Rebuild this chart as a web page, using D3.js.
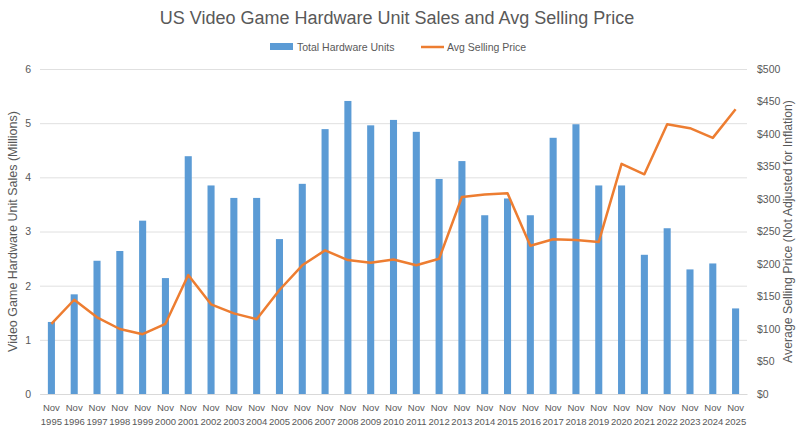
<!DOCTYPE html>
<html>
<head>
<meta charset="utf-8">
<script src="https://cdn.jsdelivr.net/npm/d3@7"></script>
<style>
  body { margin: 0; background: #fff; }
  svg { font-family: "Liberation Sans", Arial, sans-serif; }
  .tick text { fill: #595959; }
</style>
</head>
<body>
<svg id="chart" width="800" height="429"></svg>
<script>
// data
var years = ['1995','1996','1997','1998','1999','2000','2001','2002','2003','2004','2005','2006','2007','2008','2009','2010',
  '2011','2012','2013','2014','2015','2016','2017','2018','2019','2020','2021','2022','2023','2024','2025'];
var hardwareUnits = [1.33, 1.84, 2.46, 2.64, 3.2, 2.14, 4.39, 3.85, 3.62, 3.62, 2.86, 3.88, 4.89, 5.41, 4.96, 5.06,
  4.84, 3.97, 4.30, 3.30, 3.61, 3.30, 4.73, 4.98, 3.85, 3.85, 2.57, 3.06, 2.30, 2.41, 1.58];
var avgPrice = [108, 145, 118, 100, 92, 108, 183, 138, 124, 115, 160, 198, 221, 206, 202, 207,
  198, 208, 303, 307, 309, 228, 238, 237, 234, 354, 338, 415, 409, 394, 438];
var unitTicks = [0, 1, 2, 3, 4, 5, 6];
var priceTicks = [0, 50, 100, 150, 200, 250, 300, 350, 400, 450, 500];

var barColor = '#5b9bd5';
var lineColor = '#ed7d31';
var textColor = '#595959';

var svg = d3.select('#chart');
var plot = { left: 40, right: 747, top: 69, bottom: 394 };

//scales
var x = d3.scaleBand().domain(years).range([plot.left, plot.right]).paddingInner(0.69).paddingOuter(0.345);
var yUnits = d3.scaleLinear().domain([0, 6]).range([plot.bottom, plot.top]);
var yPrice = d3.scaleLinear().domain([0, 500]).range([plot.bottom, plot.top]);

//gridlines
svg.append('g')
  .selectAll('line')
  .data(unitTicks)
  .join('line')
    .attr('x1', plot.left)
    .attr('x2', plot.right)
    .attr('y1', d => yUnits(d) + 0.5)
    .attr('y2', d => yUnits(d) + 0.5)
    .attr('stroke', '#e0e0e0')
    .attr('stroke-width', 1);

//left axis
var leftAxis = svg.append('g')
  .attr('transform', 'translate(' + plot.left + ',0)')
  .call(d3.axisLeft(yUnits).tickValues(unitTicks).tickSize(0).tickPadding(9).tickFormat(d3.format('d')));
leftAxis.select('.domain').remove();
leftAxis.selectAll('text').attr('font-size', 10.5);

//right axis
var rightAxis = svg.append('g')
  .attr('transform', 'translate(' + plot.right + ',0)')
  .call(d3.axisRight(yPrice).tickValues(priceTicks).tickSize(0).tickPadding(10).tickFormat(d => '$' + d));
rightAxis.select('.domain').remove();
rightAxis.selectAll('text').attr('font-size', 10.5);

//bottom axis, two-line labels
var bottomAxis = svg.append('g')
  .attr('transform', 'translate(0,' + plot.bottom + ')')
  .call(d3.axisBottom(x).tickSize(0).tickFormat(''));
bottomAxis.select('.domain').attr('stroke', '#d9d9d9');
bottomAxis.selectAll('.tick text').remove();
bottomAxis.selectAll('.tick').each(function(d) {
  var t = d3.select(this).append('text')
    .attr('fill', textColor)
    .attr('font-size', 9.5)
    .attr('text-anchor', 'middle');
  t.append('tspan').attr('x', 0).attr('y', 17).text('Nov');
  t.append('tspan').attr('x', 0).attr('y', 31).text(d);
});

//bars
svg.append('g')
  .selectAll('rect')
  .data(years)
  .join('rect')
    .attr('x', d => x(d))
    .attr('y', (d, i) => yUnits(hardwareUnits[i]))
    .attr('width', x.bandwidth())
    .attr('height', (d, i) => yUnits(0) - yUnits(hardwareUnits[i]))
    .attr('fill', barColor);

//price line
var line = d3.line()
  .x((d, i) => x(years[i]) + x.bandwidth() / 2)
  .y(d => yPrice(d));

svg.append('path')
  .datum(avgPrice)
  .attr('d', line)
  .attr('fill', 'none')
  .attr('stroke', lineColor)
  .attr('stroke-width', 2.5)
  .attr('stroke-linejoin', 'round');

//title
svg.append('text')
  .attr('x', 397)
  .attr('y', 24)
  .attr('text-anchor', 'middle')
  .attr('font-size', 18)
  .attr('fill', textColor)
  .text('US Video Game Hardware Unit Sales and Avg Selling Price');

//legend
var legend = svg.append('g').attr('transform', 'translate(0,47)');
legend.append('rect')
  .attr('x', 270).attr('y', -4).attr('width', 23).attr('height', 7)
  .attr('fill', barColor);
legend.append('text')
  .attr('x', 297).attr('y', 3.5)
  .attr('font-size', 10.5).attr('fill', textColor)
  .text('Total Hardware Units');
legend.append('line')
  .attr('x1', 421).attr('x2', 444).attr('y1', 0).attr('y2', 0)
  .attr('stroke', lineColor).attr('stroke-width', 2.5);
legend.append('text')
  .attr('x', 447).attr('y', 3.5)
  .attr('font-size', 10.5).attr('fill', textColor)
  .text('Avg Selling Price');

//axis titles
svg.append('text')
  .attr('transform', 'translate(14,' + ((plot.top + plot.bottom) / 2) + ') rotate(-90)')
  .attr('text-anchor', 'middle')
  .attr('dominant-baseline', 'middle')
  .attr('font-size', 12.5)
  .attr('fill', textColor)
  .text('Video Game Hardware Unit Sales (Millions)');

svg.append('text')
  .attr('transform', 'translate(789,' + ((plot.top + plot.bottom) / 2) + ') rotate(-90)')
  .attr('text-anchor', 'middle')
  .attr('dominant-baseline', 'middle')
  .attr('font-size', 12.3)
  .attr('fill', textColor)
  .text('Average Selling Price (Not Adjusted for Inflation)');
</script>
</body>
</html>
